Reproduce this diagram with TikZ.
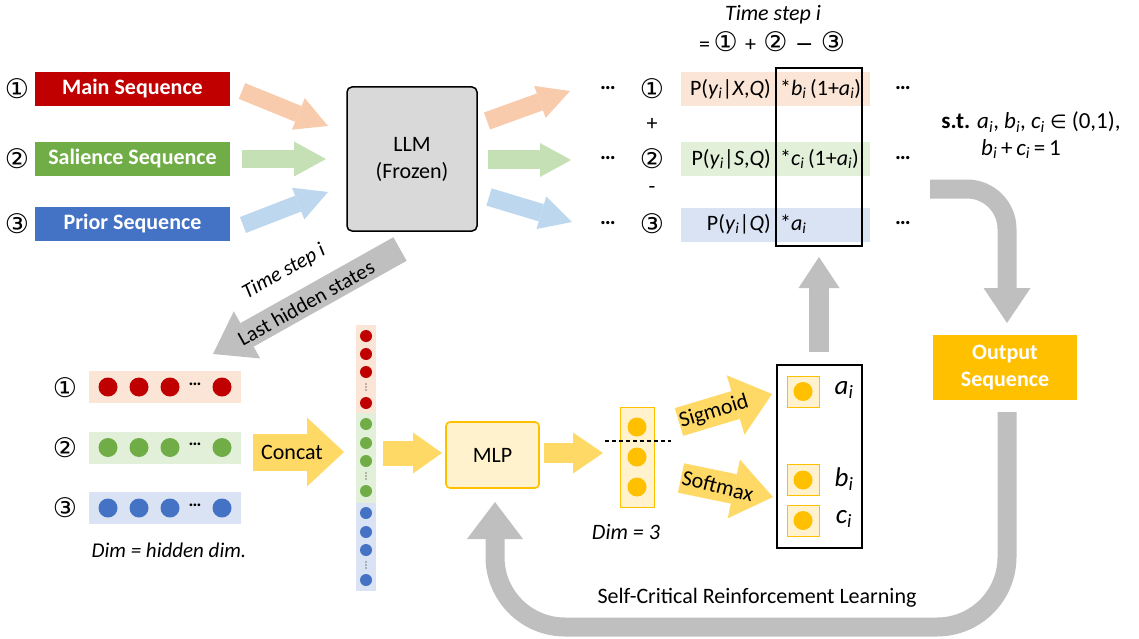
\documentclass[tikz,border=0pt]{standalone}
\usepackage{fontspec}
\setmainfont{Carlito}
\newfontfamily\cn{DejaVu Sans}
\usetikzlibrary{arrows.meta}
\definecolor{seqred}{HTML}{C00000}
\definecolor{seqgreen}{HTML}{70AD47}
\definecolor{seqblue}{HTML}{4472C4}
\definecolor{lred}{HTML}{FBE5D6}
\definecolor{lgreen}{HTML}{E2F0D9}
\definecolor{lblue}{HTML}{DAE3F3}
\definecolor{ared}{HTML}{F8CBAD}
\definecolor{agreen}{HTML}{C5E0B4}
\definecolor{ablue}{HTML}{BDD7EE}
\definecolor{gold}{HTML}{FFC000}
\definecolor{lgold}{HTML}{FFF2CC}
\definecolor{ayel}{HTML}{FFD966}
\definecolor{agray}{HTML}{BFBFBF}
\definecolor{llmgray}{HTML}{D9D9D9}
\newcommand\sbi{\textsubscript{\itshape i}}
\newcommand\mainsz{\fontsize{22}{26}\selectfont}
\newcommand\cnsz{\cn\fontsize{27}{28}\selectfont}
\tikzset{
  fat/.style n args={4}{draw=#1, line width=#2, -{Triangle[length=#4, width=#3, line width=0pt]}},
  seqbox/.style={minimum width=195pt, minimum height=34pt, inner sep=0pt, text=white, font=\mainsz\bfseries},
  rowbox/.style={minimum width=189pt, minimum height=34pt, inner sep=0pt},
  hrow/.style={minimum width=152pt, minimum height=32pt, inner sep=0pt},
  num/.style={font=\cnsz, inner sep=0pt},
  txt/.style={font=\mainsz, inner sep=0pt},
  bigdot/.style={circle, minimum size=19pt, inner sep=0pt},
  smalldot/.style={circle, minimum size=12pt, inner sep=0pt},
  ydot/.style={circle, fill=gold, minimum size=19pt, inner sep=0pt},
  ysq/.style={draw=gold, line width=1pt, fill=lgold, minimum width=32pt, minimum height=31pt, inner sep=0pt},
}
\begin{document}
\begin{tikzpicture}[x=1pt,y=-1pt]
\useasboundingbox (0,0) rectangle (1139,639);

% ---------- input sequences ----------
\node[num] (n1) at (17,89) {①};
\node[num] (n2) at (17,159) {②};
\node[num] (n3) at (17,224) {③};
\node[seqbox, fill=seqred] (seq1) at (132.5,89) {Main Sequence};
\node[seqbox, fill=seqgreen] (seq2) at (132.5,159) {Salience Sequence};
\node[seqbox, fill=seqblue] (seq3) at (132.5,224) {Prior Sequence};

\node[draw, line width=1.5pt, rounded corners=5pt, fill=llmgray, minimum width=130pt, minimum height=144pt, align=center, font=\mainsz] (llm) at (412,159) {LLM\\[1pt](Frozen)};

\coordinate (i1a) at (242,91);  \coordinate (i1b) at (328,126);
\coordinate (i2a) at (242,159); \coordinate (i2b) at (326,159);
\coordinate (i3a) at (243,225); \coordinate (i3b) at (328,192);
\draw[fat={ared}{17pt}{34pt}{32pt}] (i1a) -- (i1b);
\draw[fat={agreen}{18pt}{35pt}{32pt}] (i2a) -- (i2b);
\draw[fat={ablue}{17pt}{34pt}{32pt}] (i3a) -- (i3b);

\coordinate (o1a) at (487,121); \coordinate (o1b) at (570,91);
\coordinate (o2a) at (488,160); \coordinate (o2b) at (571,160);
\coordinate (o3a) at (489,197); \coordinate (o3b) at (572,222);
\draw[fat={ared}{18pt}{34pt}{32pt}] (o1a) -- (o1b);
\draw[fat={agreen}{19pt}{34pt}{31pt}] (o2a) -- (o2b);
\draw[fat={ablue}{18pt}{34pt}{32pt}] (o3a) -- (o3b);

% ---------- probability rows ----------
\node[txt] (ts) at (773,15) {\itshape Time step i};
\node[txt] (eq) at (772,42) {=\,{\cnsz ①}\,\,+\,\,{\cnsz ②}\,\,{\cn −}\,\,{\cnsz ③}};

\node[txt, font=\mainsz\bfseries] (d1) at (608,88) {…};
\node[txt, font=\mainsz\bfseries] (d2) at (608,158) {…};
\node[txt, font=\mainsz\bfseries] (d3) at (608,223) {…};
\node[num] (r1n) at (652,89) {①};
\node[num] (r2n) at (652,159) {②};
\node[num] (r3n) at (652,224) {③};
\node[txt] (plus) at (652,124) {+};
\node[txt] (minus) at (652,190) {-};

\node[rowbox, fill=lred] (row1) at (775.5,89) {};
\node[rowbox, fill=lgreen] (row2) at (775.5,159) {};
\node[rowbox, fill=lblue] (row3) at (775.5,224.5) {};
\node[txt, anchor=east] (p1) at (771,89) {P(\textit{y}\sbi|\textit{X},\textit{Q})};
\node[txt, anchor=east] (p2) at (771,159) {P(\textit{y}\sbi|\textit{S},\textit{Q})};
\node[txt, anchor=east] (p3) at (771,224) {P(\textit{y}\sbi|\textit{Q})};
\node[txt, anchor=west] (w1) at (780,89) {*\textit{b}\sbi\,(1+\textit{a}\sbi)};
\node[txt, anchor=west] (w2) at (780,159) {*\textit{c}\sbi\,(1+\textit{a}\sbi)};
\node[txt, anchor=west] (w3) at (780,224) {*\textit{a}\sbi};
\node[draw, line width=1.3pt, minimum width=86pt, minimum height=178pt, inner sep=0pt] (wbox) at (819,157) {};

\node[txt, font=\mainsz\bfseries] (e1) at (903,88) {…};
\node[txt, font=\mainsz\bfseries] (e2) at (903,158) {…};
\node[txt, font=\mainsz\bfseries] (e3) at (903,223) {…};

\node[txt, font=\fontsize{23}{27}\selectfont] (st1) at (1031,122) {\textbf{s.t.} \textit{a}\sbi, \textit{b}\sbi, \textit{c}\sbi\ {\cn\fontsize{19}{22}\selectfont ∈} (0,1),};
\node[txt, font=\fontsize{23}{27}\selectfont] (st2) at (1021,149) {\textit{b}\sbi\,+\,\textit{c}\sbi\,=\,1};

% ---------- output ----------
\coordinate (ca) at (930,189); \coordinate (cm) at (1007,189); \coordinate (cb) at (1007,323);
\draw[fat={agray}{19pt}{47pt}{35pt}, rounded corners=40pt] (ca) -- (cm) -- (cb);
\node[fill=gold, minimum width=144pt, minimum height=65pt, inner sep=0pt, align=center, text=white, font=\mainsz\bfseries] (out) at (1005,367.5) {Output\\[1pt]Sequence};

% ---------- hidden states ----------
\coordinate (ga) at (400,249); \coordinate (gb) at (213,354);
\draw[fat={agray}{27pt}{54pt}{39pt}] (ga) -- (gb);
\node[txt, rotate=29.3, font=\fontsize{21}{24}\selectfont\itshape] (tsi) at (284,272) {Time step i};
\node[txt, rotate=29.3, font=\fontsize{21}{24}\selectfont] (lhs) at (306,303) {Last hidden states};

\node[num] (h1n) at (65,388) {①};
\node[num] (h2n) at (65,448) {②};
\node[num] (h3n) at (65,508) {③};
\node[hrow, fill=lred] (h1) at (165,387) {};
\node[hrow, fill=lgreen] (h2) at (165,447.5) {};
\node[hrow, fill=lblue] (h3) at (165,508) {};
\foreach \r/\y/\c in {1/387/seqred, 2/447.5/seqgreen, 3/508/seqblue}{
  \foreach \k/\x in {1/108, 2/139, 3/170, 4/222}{
    \node[bigdot, fill=\c] (h\r c\k) at (\x,\y) {};
  }
  \node[txt, font=\fontsize{18}{20}\selectfont\bfseries] (h\r d) at (195,\y-3) {…};
}
\node[txt, font=\fontsize{21}{24}\selectfont\itshape] (hdim) at (169,550) {Dim = hidden dim.};

% Concat
\coordinate (cca) at (253,452); \coordinate (ccb) at (344,452);
\draw[fat={ayel}{37pt}{69pt}{37pt}] (cca) -- (ccb);
\node[txt] (concat) at (292,452) {Concat};

% concatenated column
\node[fill=lred, minimum width=20pt, minimum height=88pt, inner sep=0pt] (col1) at (366,369) {};
\node[fill=lgreen, minimum width=20pt, minimum height=90pt, inner sep=0pt] (col2) at (366,458) {};
\node[fill=lblue, minimum width=20pt, minimum height=88pt, inner sep=0pt] (col3) at (366,547) {};
\foreach \r/\a/\b/\cc/\dd/\e/\c in {1/336/354/372/387/403/seqred, 2/424/443/461/476/491/seqgreen, 3/513/532/550/565/580/seqblue}{
  \node[smalldot, fill=\c] at (366,\a) {};
  \node[smalldot, fill=\c] at (366,\b) {};
  \node[smalldot, fill=\c] at (366,\cc) {};
  \node[smalldot, fill=\c] at (366,\e) {};
  \foreach \t in {-3,0,3}{ \fill (366,\dd+\t) circle (0.7pt); }
}

\coordinate (m1a) at (383,453); \coordinate (m1b) at (442,453);
\draw[fat={ayel}{25pt}{41pt}{29pt}] (m1a) -- (m1b);

\node[draw=gold, line width=1.6pt, fill=lgold, rounded corners=4pt, minimum width=93pt, minimum height=66pt, inner sep=0pt, font=\mainsz] (mlp) at (492.5,455) {MLP};

\coordinate (m2a) at (544,453); \coordinate (m2b) at (603,453);
\draw[fat={ayel}{20pt}{41pt}{30pt}] (m2a) -- (m2b);

% dim=3 column
\node[draw=gold, line width=1pt, fill=lgold, minimum width=34pt, minimum height=100pt, inner sep=0pt] (d3col) at (637,457) {};
\node[ydot] (y1) at (637,427) {};
\node[ydot] (y2) at (637,457) {};
\node[ydot] (y3) at (637,487) {};
\coordinate (dla) at (605,441); \coordinate (dlb) at (671,441);
\draw[line width=1.8pt, dash pattern=on 4pt off 3pt] (dla) -- (dlb);
\node[txt, font=\fontsize{22}{25}\selectfont\itshape] (dim3) at (626,532) {Dim = 3};

% sigmoid / softmax
\coordinate (sga) at (679,422); \coordinate (sgb) at (772,394);
\draw[fat={ayel}{29pt}{62pt}{38pt}] (sga) -- (sgb);
\node[txt, rotate=17, font=\fontsize{22}{25}\selectfont] (sig) at (714,412) {Sigmoid};
\coordinate (sma) at (681,478); \coordinate (smb) at (773,497);
\draw[fat={ayel}{30pt}{60pt}{40pt}] (sma) -- (smb);
\node[txt, rotate=-14, font=\fontsize{22}{25}\selectfont] (smx) at (718,486) {Softmax};

% coefficient box
\node[draw, line width=1.3pt, minimum width=85pt, minimum height=183pt, inner sep=0pt] (cbox) at (819.5,456.5) {};
\node[ysq] (sa) at (803,391.5) {}; \node[ydot] at (sa) {};
\node[ysq] (sb) at (803,480) {};   \node[ydot] at (sb) {};
\node[ysq] (sc) at (803,520.5) {}; \node[ydot] at (sc) {};
\node[txt, font=\fontsize{27}{30}\selectfont] (la) at (844,390) {\textit{a}\sbi};
\node[txt, font=\fontsize{27}{30}\selectfont] (lb) at (844,479) {\textit{b}\sbi};
\node[txt, font=\fontsize{27}{30}\selectfont] (lc) at (844,519) {\textit{c}\sbi};

% up arrow to weights
\coordinate (ua) at (819,352); \coordinate (ub) at (819,257);
\draw[fat={agray}{20pt}{41pt}{31pt}] (ua) -- (ub);

% feedback loop
\coordinate (fa) at (1007,412); \coordinate (fb) at (1007,627); \coordinate (fc) at (495,627); \coordinate (fd) at (495,502);
\draw[fat={agray}{19pt}{56pt}{37pt}, rounded corners=70pt] (fa) -- (fb) -- (fc) -- (fd);
\node[txt] (scrl) at (757,598) {Self-Critical Reinforcement Learning};
\end{tikzpicture}
\end{document}
